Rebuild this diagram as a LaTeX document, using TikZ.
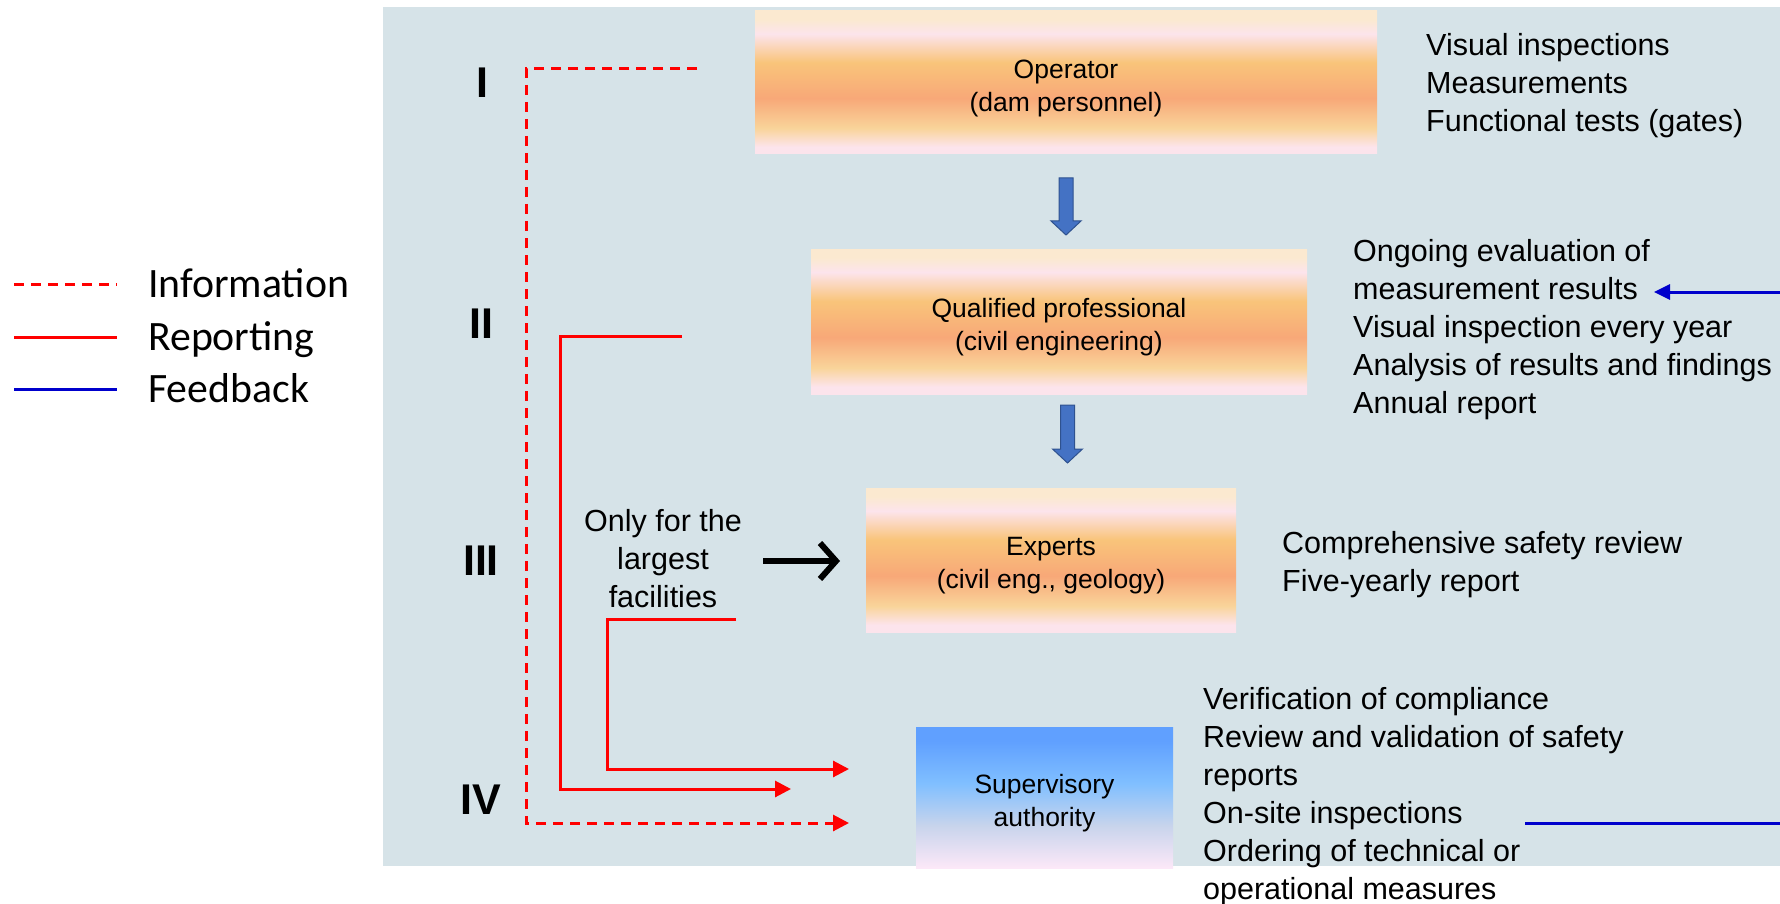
\documentclass[tikz,border=0pt]{standalone}
\usepackage{fontspec}
\setmainfont{Liberation Sans}
\newfontfamily\calfont{Carlito}
\usetikzlibrary{arrows.meta}

\definecolor{panel}{RGB}{214,227,232}
\definecolor{cream}{RGB}{251,233,208}
\definecolor{pinkw}{RGB}{252,228,236}
\definecolor{orng}{RGB}{249,196,122}
\definecolor{salmon}{RGB}{248,168,120}
\definecolor{lorng}{RGB}{249,212,154}
\definecolor{sblue}{RGB}{96,160,255}
\definecolor{lblue}{RGB}{128,191,255}
\definecolor{grayb}{RGB}{200,212,236}
\definecolor{spink}{RGB}{252,232,248}
\definecolor{fbblue}{RGB}{0,0,204}
\definecolor{barrow}{RGB}{68,114,196}
\definecolor{barrowd}{RGB}{47,82,143}

\pgfdeclareverticalshading{orangeshade}{100bp}{color(0bp)=(pinkw); color(25bp)=(pinkw); color(27.5bp)=(pinkw); color(34bp)=(lorng); color(44.5bp)=(salmon); color(57bp)=(orng); color(67bp)=(pinkw); color(72bp)=(cream); color(75bp)=(cream); color(100bp)=(cream)}
\pgfdeclareverticalshading{blueshade}{100bp}{color(0bp)=(spink); color(25bp)=(spink); color(40bp)=(grayb); color(55bp)=(lblue); color(70bp)=(sblue); color(75bp)=(sblue); color(100bp)=(sblue)}

\newcommand{\boxstrut}{\rule{0pt}{30pt}}

\begin{document}
\begin{tikzpicture}[x=1pt,y=-1pt,
  obox/.style={shade, shading=orangeshade, draw=none, inner sep=0pt, align=center,
    font=\fontsize{26.5}{33}\selectfont},
  bbox/.style={shade, shading=blueshade, draw=none, inner sep=0pt, align=center,
    font=\fontsize{26.5}{33}\selectfont},
  rtext/.style={anchor=north west, inner sep=0pt, align=left, font=\fontsize{30.5}{38}\selectfont},
  roman/.style={inner sep=0pt, font=\fontsize{43}{43}\selectfont\bfseries},
  legtext/.style={anchor=base west, inner sep=0pt, font=\calfont\fontsize{41.8}{44}\selectfont},
  info/.style={red, line width=3pt, dash pattern=on 10pt off 7pt},
  report/.style={red, line width=3pt},
  feed/.style={fbblue, line width=3pt},
  redtip/.style={-{Triangle[length=16pt,width=16pt]}},
  blockarrow/.style={fill=barrow, draw=barrowd, line width=1pt}
]
\useasboundingbox (0,0) rectangle (1780,904);
\fill[panel] (383,7) rectangle (1780,866);

% legend
\draw[info] (14,284) -- (117,284);
\node[legtext] (lginfo) at (148,297.5) {Information};
\draw[report] (14,337) -- (117,337);
\node[legtext] (lgrep) at (148,350.5) {Reporting};
\draw[feed] (14,389) -- (117,389);
\node[legtext] (lgfeed) at (148,402.5) {Feedback};

% roman numerals
\node[roman] (r1) at (482,83) {I};
\node[roman] (r2) at (481,324) {II};
\node[roman] (r3) at (481,561) {III};
\node[roman] (r4) at (481,800) {IV};

% boxes
\node[obox, minimum width=622pt, minimum height=143pt] (op) at (1066,82.5) {\boxstrut Operator\\(dam personnel)};
\node[obox, minimum width=496pt, minimum height=145pt] (qp) at (1059,321.5) {\boxstrut Qualified professional\\(civil engineering)};
\node[obox, minimum width=370pt, minimum height=144pt] (ex) at (1051,560) {\boxstrut Experts\\(civil eng., geology)};
\node[bbox, minimum width=257pt, minimum height=141pt] (sa) at (1044.5,797.5) {\boxstrut Supervisory\\authority};

% right texts
\node[rtext] (tI) at (1426,28.4) {\strut Visual inspections\\Measurements\\Functional tests (gates)};
\node[rtext] (tII) at (1353,234.4) {\strut Ongoing evaluation of\\measurement results\\Visual inspection every year\\Analysis of results and findings\\Annual report};
\node[rtext] (tIII) at (1282,527) {\strut Comprehensive safety review\\Five-yearly report};
\node[rtext] (tIV) at (1203,682.4) {\strut Verification of compliance\\Review and validation of safety\\reports\\On-site inspections\\Ordering of technical or\\operational measures};
\node[rtext, anchor=north, align=center] (only) at (663,505) {\strut Only for the\\largest\\facilities};

% block arrows
\draw[blockarrow] (1059,178) -- (1073,178) -- (1073,221) -- (1081,221) -- (1066,235) -- (1051,221) -- (1059,221) -- cycle;
\draw[blockarrow] (1060.5,405) -- (1074.5,405) -- (1074.5,449) -- (1082.5,449) -- (1067.5,463) -- (1052.5,449) -- (1060.5,449) -- cycle;

% black arrow
\coordinate (ba1) at (763,561);
\coordinate (ba2) at (840,561);
\draw[line width=6pt, -{Straight Barb[length=16pt,width=36pt]}] (ba1) -- (ba2);

% red connectors
\coordinate (i0) at (697,69);
\coordinate (i1) at (849,823);
\draw[info, redtip] (i0) -- (526,69) -- (526,823) -- (i1);
\coordinate (p0) at (682,336);
\coordinate (p1) at (791,789);
\draw[report, redtip] (p0) -- (560,336) -- (560,789) -- (p1);
\coordinate (e0) at (736,619);
\coordinate (e1) at (849,769);
\draw[report, redtip] (e0) -- (607,619) -- (607,769) -- (e1);

% feedback
\coordinate (f0) at (1780,292);
\coordinate (f1) at (1654,292);
\draw[feed, -{Triangle[length=16pt,width=15pt]}] (f0) -- (f1);
\coordinate (g0) at (1525,823);
\coordinate (g1) at (1780,823);
\draw[feed] (g0) -- (g1);
\end{tikzpicture}
\end{document}
